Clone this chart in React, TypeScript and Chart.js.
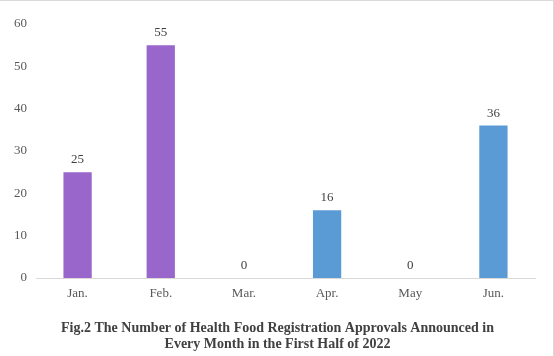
import React, { useEffect, useRef } from "react";
import { Chart, registerables } from "chart.js";

Chart.register(...registerables);

const months = ["Jan.", "Feb.", "Mar.", "Apr.", "May", "Jun."];
const approvals = [25, 55, 0, 16, 0, 36];
const barColors = ["#9966CC", "#9966CC", "#9966CC", "#5B9BD5", "#5B9BD5", "#5B9BD5"];
const titleLines = [
  "Fig.2 The Number of Health Food Registration Approvals Announced in",
  "Every Month in the First Half of 2022",
];

const valueLabels = {
  id: "valueLabels",
  afterDatasetsDraw(chart: any) {
    const ctx = chart.ctx;
    const meta = chart.getDatasetMeta(0);
    ctx.save();
    ctx.font = "13px 'Liberation Serif', 'Times New Roman', serif";
    ctx.fillStyle = "#404040";
    ctx.textAlign = "center";
    ctx.textBaseline = "bottom";
    meta.data.forEach((bar: any, i: number) => {
      ctx.fillText(String(approvals[i]), bar.x, bar.y - 6);
    });
    ctx.restore();
  },
};

// Caption centred on the whole canvas, in the space reserved by layout padding
const caption = {
  id: "caption",
  afterDraw(chart: any) {
    const ctx = chart.ctx;
    ctx.save();
    ctx.font = "bold 14px 'Liberation Serif', 'Times New Roman', serif";
    ctx.fillStyle = "#404040";
    ctx.textAlign = "center";
    ctx.textBaseline = "middle";
    const cx = chart.width / 2 + 1;
    const y0 = chart.chartArea.bottom + 50;
    titleLines.forEach((line, i) => ctx.fillText(line, cx, y0 + i * 16));
    ctx.restore();
  },
};

export default function App() {
  const ref = useRef<HTMLCanvasElement>(null);
  useEffect(() => {
    const chart = new Chart(ref.current!, {
      type: "bar",
      data: {
        labels: months,
        datasets: [
          {
            data: approvals,
            backgroundColor: barColors,
            barPercentage: 1,
            categoryPercentage: 0.34,
          },
        ],
      },
      options: {
        responsive: false,
        animation: false,
        layout: { padding: { top: 23, right: 18, left: 0, bottom: 36 } },
        plugins: {
          legend: { display: false },
          tooltip: { enabled: false },
          title: { display: false },
        },
        scales: {
          x: {
            grid: { display: false, drawTicks: false },
            border: { display: true, color: "#D9D9D9", width: 1 },
            ticks: {
              color: "#595959",
              font: { family: "'Liberation Serif', 'Times New Roman', serif", size: 13 },
              padding: 8,
            },
            afterFit: (s: any) => {
              s.height = 42;
            },
          },
          y: {
            min: 0,
            max: 60,
            grid: { display: false, drawTicks: false },
            border: { display: false },
            ticks: {
              stepSize: 10,
              color: "#595959",
              font: { family: "'Liberation Serif', 'Times New Roman', serif", size: 13 },
              padding: 9,
            },
            afterFit: (s: any) => {
              s.width = 36;
            },
          },
        },
      },
      plugins: [valueLabels, caption],
    });
    return () => chart.destroy();
  }, []);
  return (
    <div
      style={{
        position: "fixed",
        left: 0,
        top: 0,
        width: 554,
        height: 356,
        background: "#fff",
        boxSizing: "border-box",
        borderTop: "1px solid #D9D9D9",
        borderRight: "1px solid #D9D9D9",
      }}
    >
      <canvas ref={ref} width={553} height={355} style={{ display: "block" }} />
    </div>
  );
}
